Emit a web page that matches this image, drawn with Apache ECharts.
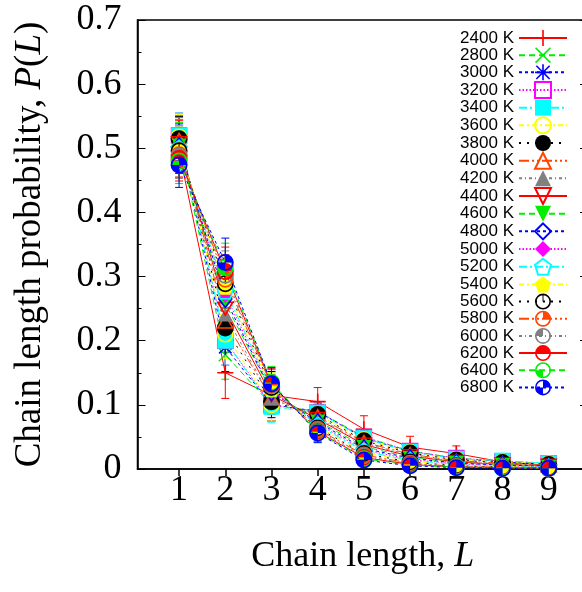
<!DOCTYPE html>
<html><head><meta charset="utf-8">
<script src="https://cdn.jsdelivr.net/npm/echarts@6/dist/echarts.min.js"></script>
<style>html,body{margin:0;padding:0;background:#fff}#c{width:582px;height:592px}</style>
</head><body><div id="c"></div>
<script>
// ---- data ----
const chainLength = [1, 2, 3, 4, 5, 6, 7, 8, 9];
const xTickValues = [1, 2, 3, 4, 5, 6, 7, 8, 9];
const temps = ['2400 K','2800 K','3000 K','3200 K','3400 K','3600 K','3800 K','4000 K','4200 K','4400 K','4600 K','4800 K','5000 K','5200 K','5400 K','5600 K','5800 K','6000 K','6200 K','6400 K','6800 K'];
const p2400 = [0.495,0.150,0.115,0.105,0.062,0.034,0.024,0.011,0.006];
const p2800 = [0.510,0.178,0.100,0.090,0.050,0.028,0.017,0.012,0.008];
const p3000 = [0.515,0.190,0.100,0.090,0.048,0.027,0.016,0.011,0.007];
const p3200 = [0.520,0.200,0.100,0.088,0.050,0.028,0.017,0.012,0.009];
const p3400 = [0.520,0.200,0.097,0.088,0.048,0.027,0.016,0.013,0.009];
const p3600 = [0.518,0.210,0.100,0.085,0.046,0.026,0.015,0.011,0.008];
const p3800 = [0.515,0.220,0.105,0.085,0.044,0.025,0.014,0.010,0.007];
const p4000 = [0.513,0.230,0.110,0.082,0.042,0.023,0.013,0.009,0.006];
const p4200 = [0.510,0.240,0.110,0.080,0.040,0.022,0.012,0.008,0.005];
const p4400 = [0.508,0.250,0.115,0.078,0.038,0.020,0.011,0.007,0.005];
const p4600 = [0.505,0.258,0.120,0.075,0.035,0.018,0.010,0.007,0.004];
const p4800 = [0.503,0.265,0.120,0.073,0.032,0.017,0.009,0.006,0.004];
const p5000 = [0.500,0.272,0.122,0.070,0.030,0.015,0.008,0.005,0.003];
const p5200 = [0.500,0.278,0.125,0.068,0.028,0.013,0.007,0.004,0.003];
const p5400 = [0.498,0.284,0.125,0.066,0.026,0.012,0.006,0.004,0.002];
const p5600 = [0.496,0.289,0.127,0.064,0.024,0.011,0.005,0.003,0.002];
const p5800 = [0.490,0.296,0.130,0.062,0.022,0.009,0.004,0.003,0.002];
const p6000 = [0.488,0.302,0.130,0.060,0.020,0.008,0.004,0.002,0.001];
const p6200 = [0.484,0.308,0.132,0.058,0.018,0.007,0.003,0.002,0.001];
const p6400 = [0.480,0.314,0.135,0.057,0.016,0.006,0.003,0.002,0.001];
const p6800 = [0.474,0.322,0.133,0.056,0.014,0.005,0.002,0.001,0.001];
const err2400 = [0.040,0.040,0.030,0.022,0.021,0.017,0.012,0.005,0.004];
const errOther = [0.035,0.038,0.025,0.015,0.010,0.008,0.005,0.004,0.003];

const values = [p2400,p2800,p3000,p3200,p3400,p3600,p3800,p4000,p4200,p4400,p4600,p4800,p5000,p5200,p5400,p5600,p5800,p6000,p6200,p6400,p6800];
const errors = values.map((v, i) => i === 0 ? err2400 : errOther);

// ---- styles ----
const RED='#ff0000', GRN='#00ee00', BLU='#0000ff', MAG='#ff00ff', CYN='#00ffff', YEL='#ffff00', BLK='#000000', ORG='#ff4500', GRY='#808080';
const ring = 'M50,0 A50 50 0 1 1 50 100 A50 50 0 1 1 50 0 Z M50,10 A40 40 0 1 0 50 90 A40 40 0 1 0 50 10 Z';
const SYM = {
  plus: 'path://M45,0 H55 V45 H100 V55 H55 V100 H45 V55 H0 V45 H45 Z',
  cross: 'path://M7,0 L50,43 L93,0 L100,7 L57,50 L100,93 L93,100 L50,57 L7,100 L0,93 L43,50 L0,7 Z',
  star: 'path://M45,0 H55 V45 H100 V55 H55 V100 H45 V55 H0 V45 H45 Z M12,5 L50,43 L88,5 L95,12 L57,50 L95,88 L88,95 L50,57 L12,95 L5,88 L43,50 L5,12 Z',
  invtri: 'path://M0,0 L100,0 L50,87 Z',
  pent: 'path://M50,0 L97.6,34.5 L79.4,90.5 L20.6,90.5 L2.4,34.5 Z',
  c0: 'path://' + ring + ' M47,10 H53 V50 H47 Z',
  c1: 'path://' + ring + ' M50,50 L50,10 A40 40 0 0 1 90 50 Z',
  c2: 'path://' + ring + ' M50,50 L10,50 A40 40 0 0 1 50 10 Z',
  c3: 'path://' + ring + ' M10,50 A40 40 0 0 1 90 50 Z',
  c4: 'path://' + ring + ' M50,50 L50,90 A40 40 0 0 1 10 50 Z',
  c5: 'path://' + ring + ' M50,50 L50,10 A40 40 0 0 1 90 50 Z M50,50 L50,90 A40 40 0 0 1 10 50 Z'
};
// [color, dash, symbol, filled, size]
const styles = [
  [RED, 'solid', SYM.plus, true, 16],
  [GRN, [6,4], SYM.cross, true, 14],
  [BLU, [3,3], SYM.star, true, 15],
  [MAG, [1.5,2], 'rect', false, 15],
  [CYN, [8,3,2,3], 'rect', true, 16],
  [YEL, [5,3,2,3], 'circle', false, 15],
  [BLK, [2,6], 'circle', true, 17],
  [ORG, [10,3,2,3,2,3], 'triangle', false, [15,13]],
  [GRY, [3,3,1,3], 'triangle', true, [15,13]],
  [RED, 'solid', SYM.invtri, false, [15,13]],
  [GRN, [6,4], SYM.invtri, true, [15,13]],
  [BLU, [3,3], 'diamond', false, [13,17]],
  [MAG, [1.5,2], 'diamond', true, [13,17]],
  [CYN, [8,3,2,3], SYM.pent, false, 16],
  [YEL, [5,3,2,3], SYM.pent, true, 16],
  [BLK, [2,6], SYM.c0, true, 17],
  [ORG, [10,3,2,3,2,3], SYM.c1, true, 17],
  [GRY, [3,3,1,3], SYM.c2, true, 17],
  [RED, 'solid', SYM.c3, true, 17],
  [GRN, [6,4], SYM.c4, true, 17],
  [BLU, [3,3], SYM.c5, true, 17]
];

const series = [];
temps.forEach((name, i) => {
  const [c, dash, sym, filled, size] = styles[i];
  const vals = values[i], errs = errors[i];
  series.push({
    type: 'custom', name: name + ' err', clip: true, silent: true,
    data: chainLength.map((l, k) => [l, vals[k], errs[k]]),
    renderItem: function (params, api) {
      const x = api.value(0), y = api.value(1), e = api.value(2);
      const t = api.coord([x, y + e]), b = api.coord([x, y - e]);
      const w = 4;
      const st = { stroke: c, lineWidth: 1 };
      return { type: 'group', children: [
        { type: 'line', shape: { x1: t[0], y1: t[1], x2: b[0], y2: b[1] }, style: st },
        { type: 'line', shape: { x1: t[0]-w, y1: t[1], x2: t[0]+w, y2: t[1] }, style: st },
        { type: 'line', shape: { x1: b[0]-w, y1: b[1], x2: b[0]+w, y2: b[1] }, style: st }
      ]};
    }
  });
  series.push({
    type: 'line', name: name,
    data: chainLength.map((l, k) => [l, vals[k]]),
    symbol: sym, symbolSize: size, showSymbol: true, animation: false,
    lineStyle: { color: c, width: 1, type: dash },
    itemStyle: filled ? { color: c, borderWidth: 0 } : { color: 'rgba(0,0,0,0)', borderColor: c, borderWidth: 1.6 },
    emphasis: { disabled: true }
  });
});

const serif = 'Liberation Serif';
const chart = echarts.init(document.getElementById('c'), null, { renderer: 'canvas' });
chart.setOption({
  animation: false,
  backgroundColor: '#fff',
  grid: { left: 137.5, top: 20, right: -6, bottom: 123, outerBoundsMode: 'none', containLabel: false, show: true, borderColor: '#000', borderWidth: 1.5, backgroundColor: 'transparent' },
  legend: {
    orient: 'vertical', right: 14, top: 29.5, align: 'right',
    itemWidth: 48, itemHeight: 20, itemGap: 0.17, padding: 0, selectedMode: false,
    textStyle: { fontFamily: 'Liberation Sans', fontSize: 17, color: '#000' },
    data: temps
  },
  xAxis: {
    type: 'value', min: 0.1, max: 9.85,
    name: 'Chain length, {i|L}', nameLocation: 'middle', nameGap: 70,
    nameTextStyle: { fontFamily: serif, fontSize: 36, color: '#000', rich: { i: { fontFamily: serif, fontSize: 36, fontStyle: 'italic', color: '#000' } } },
    axisLine: { lineStyle: { color: '#000', width: 1.5 } },
    axisTick: { show: true, inside: false, length: 7, customValues: xTickValues, lineStyle: { color: '#000', width: 1.5 } },
    axisLabel: { customValues: xTickValues, fontFamily: serif, fontSize: 36, color: '#000', margin: 4 },
    splitLine: { show: false }
  },
  yAxis: [{
    type: 'value', min: 0, max: 0.7, interval: 0.1,
    name: 'Chain length probability, {i|P}({i|L})', nameLocation: 'middle', nameGap: 89,
    nameTextStyle: { fontFamily: serif, fontSize: 37, color: '#000', rich: { i: { fontFamily: serif, fontSize: 37, fontStyle: 'italic', color: '#000' } } },
    axisLine: { lineStyle: { color: '#000', width: 1.5 } },
    axisTick: { inside: true, length: 8, lineStyle: { color: '#000', width: 1 } },
    minorTick: { show: true, splitNumber: 2, length: 4, lineStyle: { color: '#000', width: 1 } },
    axisLabel: { fontFamily: serif, fontSize: 36, color: '#000', margin: 16 },
    splitLine: { show: false }
  }, {
    type: 'value', min: 0, max: 0.7, interval: 0.1, position: 'right',
    axisLine: { show: true, lineStyle: { color: '#000', width: 1.5 } },
    axisTick: { inside: true, length: 8, lineStyle: { color: '#000', width: 1 } },
    minorTick: { show: true, splitNumber: 2, length: 4, lineStyle: { color: '#000', width: 1 } },
    axisLabel: { show: false }, splitLine: { show: false }
  }],
  series: series
});
</script></body></html>
